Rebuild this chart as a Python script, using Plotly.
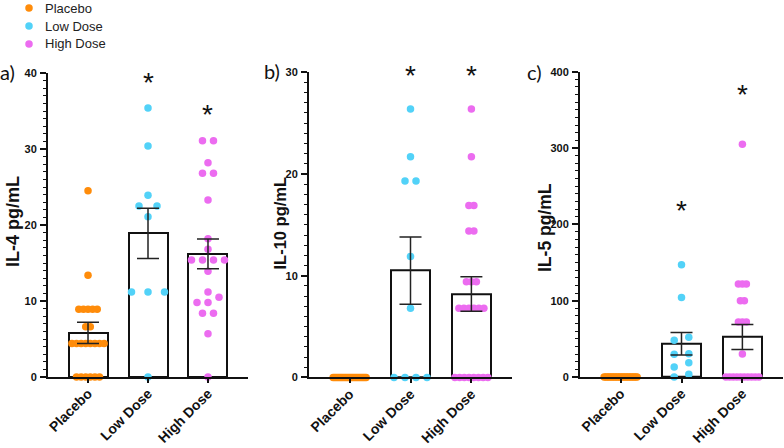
import plotly.graph_objects as go

# ---------------- data ----------------
groups = ["Placebo", "Low Dose", "High Dose"]
colors = ["#FF8C0A", "#52D2F8", "#EC6CF0"]

il4_placebo = [24.5, 13.4, 8.9, 8.9, 8.9, 8.9, 8.9, 6.6, 6.6,
               4.4, 4.4, 4.4, 4.4, 4.4, 4.4, 4.4, 4.4, 0, 0, 0, 0, 0, 0]
il4_low = [35.4, 30.4, 23.9, 22.5, 22.5, 21.1, 11.2, 11.2, 11.2, 0]
il4_high = [31.1, 31.1, 28.2, 26.8, 26.8, 23.3, 18.2, 16.8, 15.4, 15.4, 15.4,
            15.4, 13.9, 11.2, 10.5, 9.8, 9.8, 8.4, 8.4, 5.7, 0]
il4_mean = [5.8, 18.9, 16.2]
il4_sem = [1.4, 3.3, 1.95]
il4_star = [None, 39.0, 34.8]

il10_placebo = [0] * 22
il10_low = [26.4, 21.7, 19.3, 19.3, 11.9, 6.8, 0, 0, 0, 0]
il10_high = [26.4, 21.7, 16.9, 16.9, 14.4, 14.4, 9.4, 9.4, 9.4,
             6.8, 6.8, 6.8, 6.8, 6.8, 6.8, 0, 0, 0, 0, 0, 0, 0, 0]
il10_mean = [0, 10.5, 8.2]
il10_sem = [None, 3.3, 1.7]
il10_star = [None, 29.9, 29.9]

il5_placebo = [0] * 22
il5_low = [147, 104, 52, 48, 30.5, 29.7, 18.7, 13, 3.5, 0]
il5_high = [305, 122, 122, 122, 100, 100, 72, 72, 72, 30,
            0, 0, 0, 0, 0, 0, 0, 0, 0, 0]
il5_mean = [0, 43.6, 52.4]
il5_sem = [None, 14.7, 16.5]
il5_star = [None, 221, 373]

titles = ["IL-4 pg/mL", "IL-10 pg/mL", "IL-5 pg/mL"]
panel_tags = ["a)", "b)", "c)"]
yranges = [[0, 40], [0, 30], [0, 400]]
ydticks = [10, 10, 100]
yminor = [1, 1, 10]

panels = [
    dict(points=[il4_placebo, il4_low, il4_high], mean=il4_mean, sem=il4_sem, star=il4_star),
    dict(points=[il10_placebo, il10_low, il10_high], mean=il10_mean, sem=il10_sem, star=il10_star),
    dict(points=[il5_placebo, il5_low, il5_high], mean=il5_mean, sem=il5_sem, star=il5_star),
]

# ---------------- layout geometry (pixels) ----------------
W, H = 784, 448
x_px = [(48, 248), (309, 512), (580, 783)]
y_px = [(377, 73), (377.4, 72.3), (377, 71.7)]
XR = [-0.667, 2.667]
# horizontal spacing (px) of same-level points per group, per panel
swarm_spacing = [[4.6, 18, 11], [4.6, 11, 5], [4.6, 14.6, 4]]
MAX_SPAN = 33
MERGE_PX = 6.5


def swarm_offsets(vals, px_per_unit, px_per_cat, spacing):
    order = sorted(range(len(vals)), key=lambda i: vals[i])
    clusters, cur, start = [], [], None
    for i in order:
        if cur and (vals[i] - start) * px_per_unit > MERGE_PX:
            clusters.append(cur)
            cur = []
        if not cur:
            start = vals[i]
        cur.append(i)
    if cur:
        clusters.append(cur)
    off = [0.0] * len(vals)
    for cl in clusters:
        k = len(cl)
        s = spacing if k == 1 else min(spacing, MAX_SPAN / (k - 1))
        for j, i in enumerate(cl):
            off[i] = (j - (k - 1) / 2) * s / px_per_cat
    return off


fig = go.Figure()
annotations = []
shapes = []
ink = "#111111"

for p, pan in enumerate(panels):
    xa = "x" if p == 0 else f"x{p+1}"
    ya = "y" if p == 0 else f"y{p+1}"
    x0, x1 = x_px[p]
    yb, yt = y_px[p]
    px_per_cat = (x1 - x0) / (XR[1] - XR[0])
    px_per_unit = (yb - yt) / (yranges[p][1] - yranges[p][0])

    fig.add_trace(go.Bar(
        x=[0, 1, 2], y=pan["mean"], width=0.65, xaxis=xa, yaxis=ya,
        marker=dict(color="white", line=dict(color=ink, width=2)),
        showlegend=False, hoverinfo="skip"))

    for g in range(3):
        vals = pan["points"][g]
        offs = swarm_offsets(vals, px_per_unit, px_per_cat, swarm_spacing[p][g])
        fig.add_trace(go.Scatter(
            x=[g + o for o in offs], y=vals, mode="markers", xaxis=xa, yaxis=ya,
            marker=dict(color=colors[g], size=7.5, line=dict(width=0)),
            name=groups[g], legendgroup=groups[g], showlegend=False,
            cliponaxis=False))

    ex = [i for i in range(3) if pan["sem"][i] is not None]
    fig.add_trace(go.Scatter(
        x=ex, y=[pan["mean"][i] for i in ex], mode="markers", xaxis=xa, yaxis=ya,
        marker=dict(size=1, opacity=0),
        error_y=dict(type="data", array=[pan["sem"][i] for i in ex],
                     width=11, thickness=1.5, color="#222222"),
        showlegend=False, hoverinfo="skip", cliponaxis=False))

    for g in range(3):
        if pan["star"][g] is not None:
            annotations.append(dict(
                x=g, y=pan["star"][g], xref=xa, yref=ya, text="*",
                showarrow=False, yshift=-2,
                font=dict(family="Liberation Sans", size=28, color="#111")))

    dom_x = [x0 / W, x1 / W]
    dom_y = [(H - yb) / H, (H - yt) / H]
    xkey = "xaxis" if p == 0 else f"xaxis{p+1}"
    ykey = "yaxis" if p == 0 else f"yaxis{p+1}"
    fig.layout[xkey] = dict(
        domain=dom_x, range=XR, anchor=ya, tickmode="array", automargin=False,
        tickvals=[0, 1, 2], ticktext=groups, tickangle=-45,
        tickfont=dict(family="Liberation Sans", size=14, color="#111", weight="bold"),
        showline=True, linewidth=2, linecolor=ink, ticks="outside",
        ticklen=4, tickwidth=1.5, tickcolor=ink, showgrid=False, zeroline=False,
        ticklabelstandoff=-3)
    fig.layout[ykey] = dict(
        domain=dom_y, range=yranges[p], anchor=xa, tick0=0, dtick=ydticks[p],
        automargin=False,
        tickfont=dict(family="Liberation Sans", size=11, color="#111", weight="bold"),
        showline=True, linewidth=2, linecolor=ink, ticks="outside",
        ticklen=6, tickwidth=2, tickcolor=ink,
        minor=dict(dtick=yminor[p], ticks="outside", ticklen=3, tickwidth=1.2, tickcolor=ink),
        showgrid=False, zeroline=False, ticklabelstandoff=1)

# axis titles & panel tags
title_pos = [(13, 222, 18), (279, 223.5, 16.5), (545, 228, 17.5)]
tag_pos = [(7, 72), (272, 71), (534, 72)]
for p in range(3):
    tx, ty, fs = title_pos[p]
    annotations.append(dict(
        x=tx / W, y=(H - ty) / H, xref="paper", yref="paper", text=titles[p],
        textangle=-90, showarrow=False, xanchor="center", yanchor="middle",
        font=dict(family="Liberation Sans", size=fs, color="#111", weight="bold")))
    gx, gy = tag_pos[p]
    annotations.append(dict(
        x=gx / W, y=(H - gy) / H, xref="paper", yref="paper", text=panel_tags[p],
        showarrow=False, xanchor="center", yanchor="middle",
        font=dict(family="Lato", size=20, color="#111")))

# legend (top-left): dot + label per group
legend_rows_y = [8, 26, 44]
for g in range(3):
    cy = (H - legend_rows_y[g]) / H
    shapes.append(dict(
        type="circle", xref="paper", yref="paper", xsizemode="pixel", ysizemode="pixel",
        xanchor=29 / W, yanchor=cy, x0=-3.75, x1=3.75, y0=-3.75, y1=3.75,
        fillcolor=colors[g], line=dict(width=0)))
    annotations.append(dict(
        x=43 / W, y=cy, xref="paper", yref="paper", text=groups[g],
        showarrow=False, xanchor="left", yanchor="middle",
        font=dict(family="Liberation Sans", size=13, color="#222")))

fig.update_layout(
    width=W, height=H, margin=dict(l=0, r=0, t=0, b=0, autoexpand=False),
    paper_bgcolor="white", plot_bgcolor="white",
    annotations=annotations, shapes=shapes, showlegend=False,
    bargap=0, barmode="overlay",
)

fig.write_html("out.html", config={"displayModeBar": False},
               post_script="document.body.style.margin='0';")
